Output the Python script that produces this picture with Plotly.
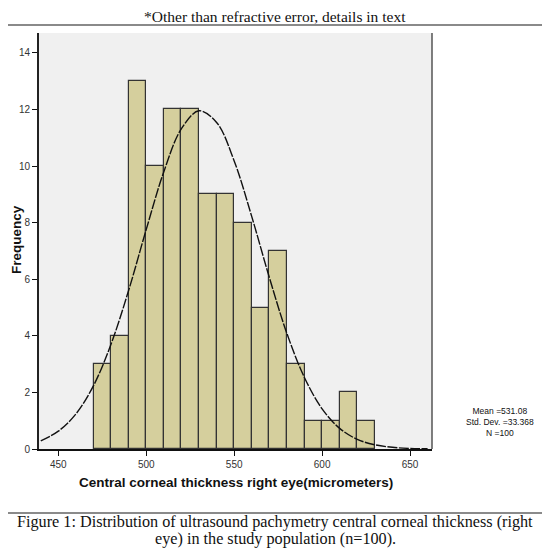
import plotly.graph_objects as go

# histogram of central corneal thickness (right eye), bins of 10 micrometers
bin_left = [470, 480, 490, 500, 510, 520, 530, 540, 550, 560, 570, 580, 590, 600, 610, 620]
counts = [3, 4, 13, 10, 12, 12, 9, 9, 8, 5, 7, 3, 1, 1, 2, 1]
bin_width = 10

# normal curve
curve_x = [440, 450, 460, 470, 480, 490, 500, 510, 520, 530, 540, 550,
           560, 570, 580, 590, 600, 610, 620, 630, 640, 650, 660]
curve_y = [0.29, 0.63, 1.24, 2.24, 3.71, 5.61, 7.76, 9.80, 11.32, 11.95, 11.54, 10.18,
           8.21, 6.06, 4.08, 2.52, 1.42, 0.73, 0.34, 0.15, 0.06, 0.02, 0.01]

x_ticks = [450, 500, 550, 600, 650]
y_ticks = [0, 2, 4, 6, 8, 10, 12, 14]
stats_lines = ["Mean =531.08", "Std. Dev. =33.368", "N =100"]

top_note = "*Other than refractive error, details in text"
caption = ["Figure 1: Distribution of ultrasound pachymetry central corneal thickness (right",
           "eye) in the study population (n=100)."]

# the page body has an 8px margin, so the figure is drawn 8px smaller and
# every position below is given in window pixels and shifted back
OFF = 8
W, H = 550 - OFF, 551 - OFF
plot_left, plot_right, plot_top, plot_bottom = 39, 432, 33, 449
L, T = plot_left - OFF, plot_top - OFF
R, B = W - (plot_right - OFF), H - (plot_bottom - OFF)
pw, ph = plot_right - plot_left, plot_bottom - plot_top


def px(x):
    return (x - plot_left) / pw


def py(y):
    return (plot_bottom - y) / ph


fig = go.Figure()

fig.add_trace(go.Bar(
    x=bin_left, y=counts, width=bin_width, offset=0,
    marker=dict(color="#d5cf9d", line=dict(color="#333333", width=1.2)),
    hoverinfo="x+y", showlegend=False
))

fig.add_trace(go.Scatter(
    x=curve_x, y=curve_y, mode="lines",
    line=dict(color="#111111", width=1.4, shape="spline", dash="10px,1.5px"),
    hoverinfo="skip", showlegend=False
))

sans = "Liberation Sans, Arial, sans-serif"
serif = "Liberation Serif, Times New Roman, serif"
tick_font = dict(family=sans, size=10, color="#333333")

fig.update_layout(
    width=W, height=H,
    margin=dict(l=L, r=R, t=T, b=B),
    paper_bgcolor="white", plot_bgcolor="#f0f0f0",
    bargap=0,
    font=dict(family=sans, size=10, color="#222222"),
    xaxis=dict(range=[439, 662.5], tickvals=x_ticks, ticks="outside", ticklen=5,
               tickcolor="#111111", showgrid=False, zeroline=False,
               showline=True, linecolor="#111111", linewidth=2, tickfont=tick_font),
    yaxis=dict(range=[0, 14.7], tickvals=y_ticks, ticks="outside", ticklen=5,
               tickcolor="#111111", showgrid=False, zeroline=False,
               showline=True, linecolor="#222222", linewidth=2, tickfont=tick_font),
)

# right border of the plot box and the page rules
fig.add_shape(type="line", xref="paper", yref="paper", x0=1, x1=1, y0=0, y1=1,
              line=dict(color="#555555", width=1.5))
for y_rule in (25, 513):
    fig.add_shape(type="line", xref="paper", yref="paper", x0=px(OFF), x1=px(550),
                  y0=py(y_rule), y1=py(y_rule), line=dict(color="#8a8a8a", width=2))


def note(text, x, y, size, family, angle=0):
    fig.add_annotation(text=text, xref="paper", yref="paper", x=px(x), y=py(y),
                       xanchor="center", yanchor="middle", textangle=angle,
                       showarrow=False, font=dict(family=family, size=size, color="#111111"))


note(top_note, 275, 16, 15.5, serif)
note("<b>Central corneal thickness right eye(micrometers)</b>", 236, 482, 13.5, sans)
note("<b>Frequency</b>", 16, 240, 13.5, sans, angle=-90)
note("<br>".join(stats_lines), 500, 422, 8.5, sans)

for i, line in enumerate(caption):
    note(line, 275, 522 + 17 * i, 16.2, serif)

fig.write_html("out.html")
